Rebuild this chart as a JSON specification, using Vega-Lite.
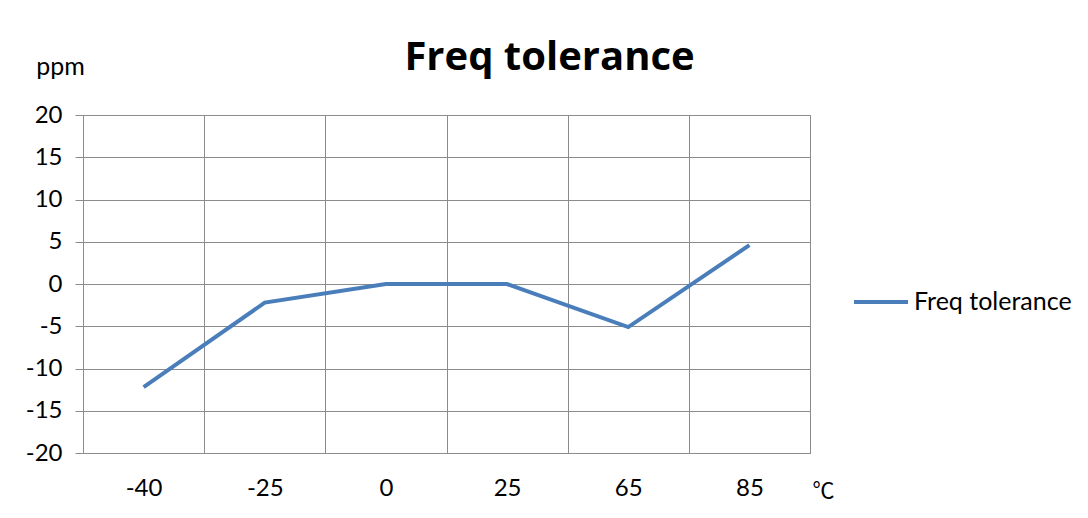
{
  "$schema": "https://vega.github.io/schema/vega-lite/v6.json",
  "autosize": {"type": "none"},
  "width": 727,
  "height": 338,
  "padding": {"left": 83, "top": 115, "right": 278, "bottom": 65},
  "background": "white",
  "title": {
    "text": "Freq tolerance",
    "font": "Open Sans",
    "fontSize": 40,
    "fontWeight": "bold",
    "color": "#000000",
    "anchor": "middle",
    "frame": "group",
    "dx": 103,
    "offset": -24
  },
  "data": {
    "values": [
      {"temp": "-40", "ppm": -12.2, "series": "Freq tolerance"},
      {"temp": "-25", "ppm": -2.2, "series": "Freq tolerance"},
      {"temp": "0", "ppm": 0, "series": "Freq tolerance"},
      {"temp": "25", "ppm": 0, "series": "Freq tolerance"},
      {"temp": "65", "ppm": -5.1, "series": "Freq tolerance"},
      {"temp": "85", "ppm": 4.6, "series": "Freq tolerance"}
    ]
  },
  "mark": {"type": "line", "strokeWidth": 4, "strokeCap": "butt", "strokeJoin": "miter"},
  "encoding": {
    "x": {
      "field": "temp",
      "type": "nominal",
      "sort": null,
      "scale": {"type": "band", "paddingInner": 0, "paddingOuter": 0},
      "axis": {
        "title": "℃",
        "titleFont": "Noto Sans CJK SC",
        "titleFontSize": 22,
        "titleFontWeight": "normal",
        "titleColor": "#000000",
        "titleAnchor": "start",
        "titleAlign": "center",
        "titleBaseline": "middle",
        "titleX": 740,
        "titleY": 37,
        "labelAngle": 0,
        "labelFont": "Lato",
        "labelFontSize": 24,
        "labelColor": "#000000",
        "labelPadding": 23,
        "ticks": false,
        "domain": false,
        "grid": true,
        "tickBand": "extent",
        "gridColor": "#8c8c8c",
        "gridWidth": 1
      }
    },
    "y": {
      "field": "ppm",
      "type": "quantitative",
      "scale": {"domain": [-20, 20], "nice": false},
      "axis": {
        "values": [-20, -15, -10, -5, 0, 5, 10, 15, 20],
        "labelExpr": "toString(datum.value)",
        "title": "ppm",
        "titleAngle": 0,
        "titleFont": "Lato",
        "titleFontSize": 25,
        "titleFontWeight": "normal",
        "titleColor": "#000000",
        "titleAlign": "center",
        "titleBaseline": "middle",
        "titleX": -23,
        "titleY": -49,
        "labelFont": "Lato",
        "labelFontSize": 24,
        "labelColor": "#000000",
        "labelPadding": 13,
        "tickSize": 8,
        "tickColor": "#8c8c8c",
        "domain": false,
        "grid": true,
        "gridColor": "#8c8c8c",
        "gridWidth": 1
      }
    },
    "color": {
      "field": "series",
      "type": "nominal",
      "scale": {"range": ["#4a7ebb"]},
      "legend": {
        "title": null,
        "orient": "none",
        "legendX": 769,
        "legendY": 158,
        "padding": 0,
        "symbolType": "stroke",
        "symbolSize": 2916,
        "symbolStrokeWidth": 4,
        "labelFont": "Lato",
        "labelFontSize": 25,
        "labelColor": "#000000",
        "labelOffset": 4
      }
    }
  },
  "config": {
    "view": {"stroke": "#8c8c8c", "strokeWidth": 1}
  }
}
